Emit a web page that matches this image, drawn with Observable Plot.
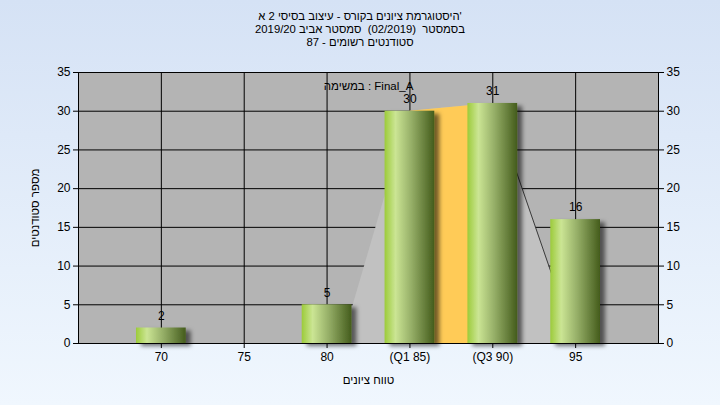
<!DOCTYPE html>
<html>
<head>
<meta charset="utf-8">
<script src="https://cdn.jsdelivr.net/npm/d3@7"></script>
<script src="https://cdn.jsdelivr.net/npm/@observablehq/plot@0.6"></script>
<style>
  html, body { margin: 0; padding: 0; }
  body { width: 720px; height: 405px; overflow: hidden;
         background: linear-gradient(to bottom, #D5E2F5, #F0F7FE);
         font-family: "Liberation Sans", Arial, sans-serif; }
  #wrap { position: relative; width: 720px; height: 405px; }
  .title { position: absolute; left: 0; width: 720px; text-align: center;
           font-size: 11.3px; line-height: 13px; color: #000; white-space: pre; }
  #chart { position: absolute; left: 0; top: 0; }
</style>
</head>
<body>
<div id="wrap">
  <div id="chart"></div>
</div>
<script>
// ---- data ----
const titleLines = [
  "היסטוגרמת ציונים בקורס - עיצוב בסיסי 2 א'",
  "בסמסטר  (02/2019)  סמסטר אביב 2019/20",
  "סטודנטים רשומים - 87"
];
const legendLabel = "במשימה : Final_A";
const xTitle = "טווח ציונים";
const yTitle = "מספר סטודנטים";
const categories = ["70", "75", "80", "(Q1 85)", "(Q3 90)", "95"];
const counts = [2, 0, 5, 30, 31, 16];
const yTicks = [0, 5, 10, 15, 20, 25, 30, 35];
// background distribution shape (category index units, student counts)
const shapeX = [3.18, 4, 5, 6];
const shapeY = [0, 30, 31, 0];
// interquartile band (Q1 -> Q3)
const iqrX = [4, 5];
const iqrY = [30, 31];
// falling edge line (Q3 -> 95)
const edgeX = [5, 6];
const edgeY = [31, 0];

// ---- titles ----
const wrap = document.getElementById("wrap");
titleLines.forEach((t, i) => {
  const d = document.createElement("div");
  d.className = "title";
  d.dir = "ltr";
  d.style.top = (10 + i * 13) + "px";
  d.textContent = t;
  wrap.appendChild(d);
});

// ---- chart ----
const data = categories.map((c, i) => ({pos: i + 1, label: c, count: counts[i]}));
const bars = data.filter(d => d.count > 0);
const shape = shapeX.map((x, i) => ({x, y: shapeY[i]}));
const iqr = iqrX.map((x, i) => ({x, y: iqrY[i]}));
const edge = edgeX.map((x, i) => ({x, y: edgeY[i]}));
const halfW = 0.3;

const chart = Plot.plot({
  width: 720,
  height: 405,
  marginLeft: 78,
  marginRight: 62,
  marginTop: 72,
  marginBottom: 62,
  style: {background: "transparent", fontFamily: "'Liberation Sans', Arial, sans-serif", fontSize: "12px", color: "#000"},
  x: {domain: [0, 7], axis: null},
  y: {domain: [0, 35], axis: null},
  marks: [
    Plot.frame({fill: "#B4B4B4", stroke: "none"}),
    Plot.gridY(yTicks, {stroke: "#000", strokeOpacity: 1}),
    Plot.gridX(data.map(d => d.pos), {stroke: "#000", strokeOpacity: 1}),
    Plot.areaY(shape, {x: "x", y: "y", fill: "#C1C1C1"}),
    Plot.areaY(iqr, {x: "x", y: "y", fill: "#FFCB57"}),
    Plot.line(edge, {x: "x", y: "y", stroke: "#3a3a3a", strokeWidth: 1}),
    Plot.rectY(bars, {x1: d => d.pos - halfW, x2: d => d.pos + halfW, y: "count", fill: "url(#barGrad)"}),
    Plot.text(bars, {x: "pos", y: "count", text: d => String(d.count), dy: -12, fill: "#000"}),
    Plot.frame({stroke: "#000"}),
    Plot.axisY(yTicks, {anchor: "left", tickSize: 5, tickPadding: 3, label: null}),
    Plot.axisY(yTicks, {anchor: "right", tickSize: 5, tickPadding: 3, label: null}),
    Plot.axisX(data.map(d => d.pos), {anchor: "bottom", tickSize: 5, tickPadding: 4, label: null,
      tickFormat: p => categories[p - 1]}),
    Plot.text([legendLabel], {text: d => d, frameAnchor: "top", lineAnchor: "middle", dy: 14, fontSize: 11.5, fill: "#000"}),
    Plot.text([xTitle], {text: d => d, frameAnchor: "bottom", lineAnchor: "middle", dy: 37, fontSize: 11.5, fill: "#000"}),
    Plot.text([yTitle], {text: d => d, frameAnchor: "left", textAnchor: "middle", dx: -43, rotate: -90, fontSize: 11.5, fill: "#000"})
  ]
});

// gradient + shadow definitions for the bars
const ns = "http://www.w3.org/2000/svg";
const defs = document.createElementNS(ns, "defs");
const grad = document.createElementNS(ns, "linearGradient");
grad.setAttribute("id", "barGrad");
grad.setAttribute("x1", "0"); grad.setAttribute("x2", "1");
grad.setAttribute("y1", "0"); grad.setAttribute("y2", "0");
[[0, "#9CCB3A"], [0.22, "#CBE594"], [0.55, "#94AD66"], [1, "#445C1C"]].forEach(([o, c]) => {
  const s = document.createElementNS(ns, "stop");
  s.setAttribute("offset", o);
  s.setAttribute("stop-color", c);
  grad.appendChild(s);
});
defs.appendChild(grad);
const filt = document.createElementNS(ns, "filter");
filt.setAttribute("id", "barShadow");
filt.setAttribute("x", "-20%"); filt.setAttribute("y", "-20%");
filt.setAttribute("width", "160%"); filt.setAttribute("height", "160%");
const ds = document.createElementNS(ns, "feDropShadow");
ds.setAttribute("dx", "5"); ds.setAttribute("dy", "3");
ds.setAttribute("stdDeviation", "2");
ds.setAttribute("flood-color", "#000");
ds.setAttribute("flood-opacity", "0.55");
filt.appendChild(ds);
defs.appendChild(filt);
chart.insertBefore(defs, chart.firstChild);
chart.querySelectorAll('g[aria-label="rect"]').forEach(g => {
  g.setAttribute("fill", "url(#barGrad)");
  g.setAttribute("filter", "url(#barShadow)");
});

document.getElementById("chart").appendChild(chart);
</script>
</body>
</html>
